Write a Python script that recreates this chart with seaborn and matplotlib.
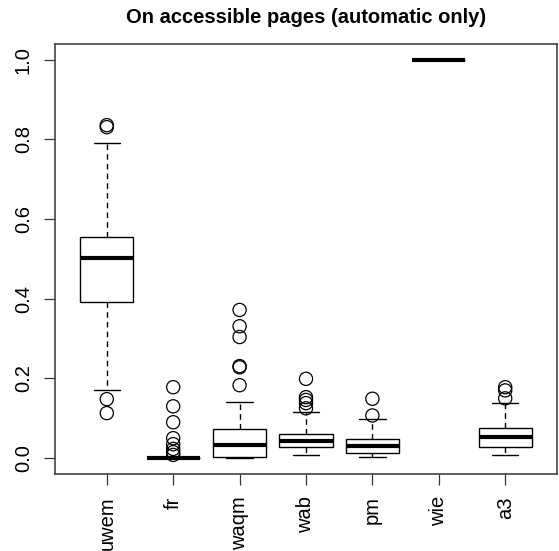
import pandas as pd
import matplotlib.pyplot as plt
import seaborn as sns

# ==========================================
# Data (five-number summaries + outliers)
# ==========================================
tools = ['uwem', 'fr', 'waqm', 'wab', 'pm', 'wie', 'a3']

whisk_lo = [0.170, 0.0, 0.0,   0.009, 0.002, 1.0, 0.007]
q1       = [0.393, 0.0, 0.002, 0.028, 0.013, 1.0, 0.028]
medians  = [0.502, 0.0, 0.032, 0.044, 0.031, 1.0, 0.053]
q3       = [0.555, 0.0, 0.072, 0.061, 0.047, 1.0, 0.075]
whisk_hi = [0.790, 0.0, 0.141, 0.115, 0.098, 1.0, 0.138]

outliers = {
    'uwem': [0.831, 0.836, 0.148, 0.113],
    'fr':   [0.178, 0.130, 0.090, 0.050, 0.035, 0.023, 0.015, 0.008],
    'waqm': [0.372, 0.331, 0.304, 0.231, 0.228, 0.183],
    'wab':  [0.199, 0.153, 0.146, 0.138, 0.125],
    'pm':   [0.149, 0.107],
    'wie':  [],
    'a3':   [0.178, 0.170, 0.150],
}

# 5 points per group -> linear percentiles land exactly on q1 / median / q3
box_rows = []
for i, t in enumerate(tools):
    for v in (whisk_lo[i], q1[i], medians[i], q3[i], whisk_hi[i]):
        box_rows.append({'tool': t, 'value': v})
box_df = pd.DataFrame(box_rows)
out_df = pd.DataFrame([{'tool': t, 'value': v} for t in tools for v in outliers[t]])

sns.set_style('white')
plt.rcParams['font.family'] = ['Liberation Sans', 'DejaVu Sans']
plt.rcParams['text.color'] = 'black'
plt.rcParams['xtick.color'] = 'black'
plt.rcParams['ytick.color'] = 'black'

fig = plt.figure(figsize=(5.59, 5.51), dpi=100)
ax = fig.add_axes([0.0984, 0.1397, 0.8980, 0.7806])

sns.boxplot(data=box_df, x='tool', y='value', order=tools, ax=ax,
            whis=(0, 100), showfliers=False, width=0.8,
            color='white', linecolor='black', linewidth=1.0,
            whiskerprops={'linestyle': (0, (4, 3))},
            medianprops={'linewidth': 3, 'solid_capstyle': 'butt'})
sns.stripplot(data=out_df, x='tool', y='value', order=tools, ax=ax,
              jitter=False, marker='o', size=9.5, facecolors='none',
              edgecolor='black', linewidth=0.9)
for coll in ax.collections:
    coll.set_facecolor('none')
    coll.set_edgecolor('black')

ax.set_xlim(-0.78, 6.78)
ax.set_ylim(-0.04, 1.04)
ax.set_yticks([0, 0.2, 0.4, 0.6, 0.8, 1.0])
ax.set_yticklabels(['0.0', '0.2', '0.4', '0.6', '0.8', '1.0'],
                   rotation=90, va='center')
ax.set_xticks(range(len(tools)))
ax.set_xticklabels(tools, rotation=90)
ax.tick_params(axis='both', direction='out', length=8, width=0.9,
               color='#333333', labelcolor='black', labelsize=14.5, pad=8,
               left=True, bottom=True)
ax.set_xlabel('')
ax.set_ylabel('')
for s in ax.spines.values():
    s.set_visible(True)
    s.set_color('#444444')
    s.set_linewidth(1.2)

ax.set_title('On accessible pages (automatic only)', fontsize=14.5,
             fontweight='bold', color='black', pad=15)

fig.savefig('out.png', dpi=100)
